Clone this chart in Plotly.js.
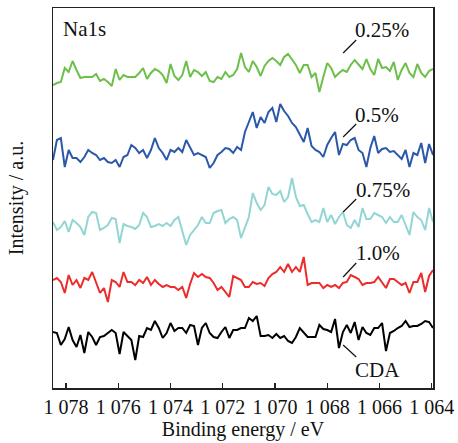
<!DOCTYPE html>
<html>
<head>
<meta charset="utf-8">
<script src="https://cdn.plot.ly/plotly-3.0.1.min.js"></script>
<style>html,body{margin:0;padding:0;background:#fff;}#chart{width:458px;height:443px;}</style>
</head>
<body>
<div id="chart"></div>
<script>
// Binding energy grid (eV)
const energy = [1078.5,1078.35,1078.2,1078.05,1077.9,1077.75,1077.6,1077.45,1077.3,1077.15,
1077.0,1076.85,1076.7,1076.55,1076.4,1076.25,1076.1,1075.95,1075.8,1075.65,
1075.5,1075.35,1075.2,1075.05,1074.9,1074.75,1074.6,1074.45,1074.3,1074.15,
1074.0,1073.85,1073.7,1073.55,1073.4,1073.25,1073.1,1072.95,1072.8,1072.65,
1072.5,1072.35,1072.2,1072.05,1071.9,1071.75,1071.6,1071.45,1071.3,1071.15,
1071.0,1070.85,1070.7,1070.55,1070.4,1070.25,1070.1,1069.95,1069.8,1069.65,
1069.5,1069.35,1069.2,1069.05,1068.9,1068.75,1068.6,1068.45,1068.3,1068.15,
1068.0,1067.85,1067.7,1067.55,1067.4,1067.25,1067.1,1066.95,1066.8,1066.65,
1066.5,1066.35,1066.2,1066.05,1065.9,1065.75,1065.6,1065.45,1065.3,1065.15,
1065.0,1064.85,1064.7,1064.55,1064.4,1064.25,1064.1,1063.95];

// Intensities (a.u., stacked)
const na025 = [303,305,306,320,316,327,318,310,311,311,
311,314,307,309,306,302,319,308,313,311,
311,311,315,320,309,315,319,317,313,305,
324,312,308,313,327,311,318,316,312,316,
307,306,311,309,316,311,313,319,335,321,
316,327,321,312,322,327,330,327,323,331,
334,329,323,315,323,323,311,315,296,311,
325,320,311,315,318,316,323,328,324,319,
329,319,313,329,320,321,317,326,308,318,
325,315,311,324,315,311,317,319];

const na05 = [228,248,250,221,238,230,230,226,231,238,
235,233,228,230,226,225,228,221,231,233,
243,240,235,238,230,238,250,240,235,228,
238,236,240,236,248,241,233,235,233,231,
220,225,233,236,240,239,235,241,238,256,
266,276,260,271,265,276,280,266,284,277,
272,265,261,253,246,260,242,238,236,231,
243,250,256,233,244,243,248,250,238,235,
221,240,252,235,239,240,236,237,233,229,
238,221,235,233,245,225,244,233];

const na075 = [166,158,161,167,156,168,165,161,153,171,
176,175,158,160,163,170,169,145,164,162,
161,159,163,175,171,161,162,164,162,165,
162,168,171,156,143,153,158,163,171,165,
165,175,177,178,165,169,171,168,150,160,
171,195,185,178,183,201,194,193,197,186,
191,210,191,182,183,174,166,168,166,180,
166,173,164,171,176,163,160,168,161,180,
169,169,175,173,171,165,171,166,166,173,
163,153,176,171,168,158,180,166];

const na10 = [108,110,106,95,113,103,108,100,110,108,
116,106,95,100,86,108,106,101,116,106,
106,103,108,105,111,103,108,104,101,103,
101,101,98,101,90,104,115,111,114,111,
110,105,98,101,96,91,112,110,108,101,
101,106,104,105,102,110,114,116,121,116,
124,116,121,116,131,103,105,105,105,100,
103,101,103,100,105,106,113,111,109,103,
105,105,106,111,106,100,109,109,106,103,
105,95,106,106,115,96,112,118];

const cda = [56,55,43,49,61,48,41,53,35,56,
51,43,51,52,55,58,55,34,56,52,
48,28,52,51,60,58,67,60,50,55,
65,57,60,60,55,63,62,43,60,65,
55,51,50,56,61,50,58,58,60,60,
70,67,72,52,52,53,50,54,50,52,
47,45,51,60,56,51,51,51,63,59,
58,56,69,40,56,63,55,66,48,61,
55,53,60,60,65,37,55,57,60,62,
67,61,62,62,64,67,66,60];

const seriesNames = ['0.25%','0.5%','0.75%','1.0%','CDA'];
const seriesData = [na025, na05, na075, na10, cda];
const seriesColors = ['#6cc04a','#2b58aa','#92d6d4','#ee2b2b','#000000'];

const tickVals = [1078,1076,1074,1072,1070,1068,1066,1064];
const tickText = ['1 078','1 076','1 074','1 072','1 070','1 068','1 066','1 064'];

const traces = seriesData.map((d,i)=>({
  x: energy, y: d, type:'scatter', mode:'lines', name: seriesNames[i],
  line:{color: seriesColors[i], width:2}, hoverinfo:'skip'
}));

const FONT = 'Liberation Serif, Times New Roman, serif';

// label positions (eV, intensity) and leader lines
const labelX = [1067.0,1067.0,1066.96,1066.96,1067.0];
const labelY = [358,273,198,135,18];
const leaderX0 = 1067.39, leaderX1 = 1066.89;
const leaderY0 = [335,251,176,111,43];
const leaderY1 = [348,264,189,125,31];

const annotations = seriesNames.map((n,i)=>({
  x: labelX[i], y: labelY[i], xref:'x', yref:'y', text: n, showarrow:false,
  xanchor:'left', yanchor:'middle', font:{family:FONT, size:21, color:'#111'}
}));
annotations.push({x:1078.2, y:359, xref:'x', yref:'y', text:'Na1s', showarrow:false,
  xanchor:'left', yanchor:'middle', font:{family:FONT, size:21, color:'#111'}});

const shapes = leaderY0.map((y0,i)=>({
  type:'line', xref:'x', yref:'y', x0: leaderX0, y0: y0, x1: leaderX1, y1: leaderY1[i],
  line:{color:'#111', width:1.2}
}));

const layout = {
  width:458, height:443,
  margin:{l:53, r:25, t:8, b:55},
  paper_bgcolor:'#fff', plot_bgcolor:'#fff',
  showlegend:false,
  font:{family:FONT, size:20, color:'#111'},
  xaxis:{
    range:[1078.5,1063.95], autorange:false,
    tickmode:'array', tickvals: tickVals, ticktext: tickText,
    ticks:'inside', ticklen:5, tickwidth:1.2, tickcolor:'#222',
    showline:true, linecolor:'#222', linewidth:1.5, mirror:true,
    showgrid:false, zeroline:false,
    tickfont:{family:FONT, size:20, color:'#111'},
    title:{text:'Binding energy / eV', font:{family:FONT, size:20, color:'#111'}, standoff:1}
  },
  yaxis:{
    range:[0,380], autorange:false,
    showticklabels:false, ticks:'',
    showline:true, linecolor:'#222', linewidth:1.5, mirror:true,
    showgrid:false, zeroline:false,
    title:{text:'Intensity / a.u.', font:{family:FONT, size:20, color:'#111'}, standoff:22}
  },
  annotations: annotations,
  shapes: shapes
};

Plotly.newPlot('chart', traces, layout, {displayModeBar:false, staticPlot:true});
</script>
</body>
</html>
